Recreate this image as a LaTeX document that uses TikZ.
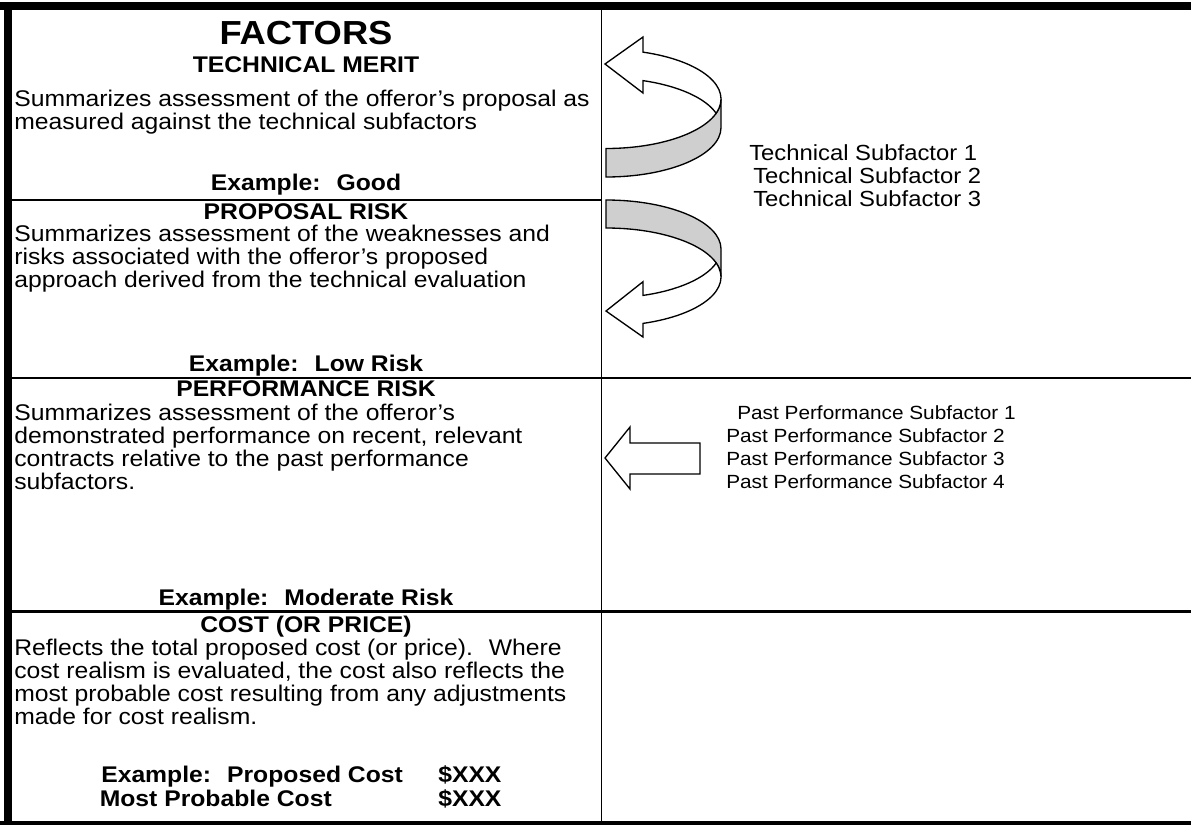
\documentclass[tikz,border=0pt]{standalone}
\usepackage{fontspec}
\setmainfont{Liberation Sans}
\begin{document}
\begin{tikzpicture}[x=0.75pt, y=-0.75pt,
    body/.style={anchor=base west, inner sep=0pt, xscale=1.09, font=\fontsize{17}{18}\selectfont},
    head/.style={anchor=base, inner sep=0pt, xscale=1.09, font=\fontsize{17}{18}\selectfont\bfseries},
    side/.style={anchor=base west, inner sep=0pt, xscale=1.09, font=\fontsize{16.4}{18}\selectfont},
    past/.style={anchor=base west, inner sep=0pt, xscale=1.09, font=\fontsize{14.3}{16}\selectfont},
    arrowbody/.style={draw, line width=1pt, fill=white, line join=miter},
    band/.style={draw, line width=1pt, fill=black!19, line join=miter}]
  \useasboundingbox (0,0) rectangle (1191,825);

  % Draw the heavy frame on the top, left and bottom
  \fill (0,2) rectangle (1191,9.5);
  \fill (3.8,2) rectangle (11.5,825);
  \fill (0,821) rectangle (1191,825);

  % Draw the column divider and the row rules
  \draw[line width=1.2pt] (601.5,9.5) -- (601.5,821);
  \draw[line width=1.9pt] (11.5,200) -- (601.5,200);
  \foreach \y in {378, 611.5} {
      \draw[line width=1.9pt] (11.5,\y) -- (1191,\y);
  }

  % Technical merit
  \node[head, font=\fontsize{25}{27}\selectfont\bfseries] (factors) at (306,44) {FACTORS};
  \node[head] (techmerit) at (306,72) {TECHNICAL MERIT};
  \foreach \t [count=\i] in {{Summarizes assessment of the offeror’s proposal as},
                             {measured against the technical subfactors}} {
      \node[body] (tm\i) at (14,{106+23*(\i-1)}) {\t};
  }
  \node[head] (tmex) at (306,190.5) {Example:~ Good};

  % Proposal risk
  \node[head] (proprisk) at (306,219.5) {PROPOSAL RISK};
  \foreach \t [count=\i] in {{Summarizes assessment of the weaknesses and},
                             {risks associated with the offeror’s proposed},
                             {approach derived from the technical evaluation}} {
      \node[body] (pr\i) at (14,{241.5+23*(\i-1)}) {\t};
  }
  \node[head] (prex) at (306,371) {Example:~ Low Risk};

  % Performance risk
  \node[head] (perfrisk) at (306,396.5) {PERFORMANCE RISK};
  \foreach \t [count=\i] in {{Summarizes assessment of the offeror’s},
                             {demonstrated performance on recent, relevant},
                             {contracts relative to the past performance},
                             {subfactors.}} {
      \node[body] (pf\i) at (14,{420.5+23*(\i-1)}) {\t};
  }
  \node[head] (pfex) at (306,605.5) {Example:~ Moderate Risk};

  % Cost
  \node[head] (cost) at (306,632.5) {COST (OR PRICE)};
  \foreach \t [count=\i] in {{Reflects the total proposed cost (or price).~ Where},
                             {cost realism is evaluated, the cost also reflects the},
                             {most probable cost resulting from any adjustments},
                             {made for cost realism.}} {
      \node[body] (co\i) at (14,{655.5+23*(\i-1)}) {\t};
  }
  \node[head, anchor=base west] (costex) at (101,782) {Example:~ Proposed Cost};
  \node[head, anchor=base west] (costexval) at (438,782) {\$XXX};
  \node[head, anchor=base west] (mpc) at (99.5,806) {Most Probable Cost};
  \node[head, anchor=base west] (mpcval) at (438,806) {\$XXX};

  % Subfactors on the right
  \node[side] (ts1) at (749,160) {Technical Subfactor 1};
  \foreach \i in {2,3} {
      \node[side] (ts\i) at (753,{160+23*(\i-1)}) {Technical Subfactor \i};
  }
  \node[past] (pp1) at (737,419) {Past Performance Subfactor 1};
  \foreach \i in {2,3,4} {
      \node[past] (pp\i) at (726,{419+23*(\i-1)}) {Past Performance Subfactor \i};
  }

  % Curved arrow up to technical merit
  \draw[band] (721,99) arc[start angle=0, end angle=90, x radius=115, y radius=49.5]
      -- (606,177) arc[start angle=90, end angle=0, x radius=115, y radius=49.5] -- cycle;
  \draw[arrowbody] (605,64) -- (643,37) -- (643,52.13)
      arc[start angle=-71.23, end angle=16.73, x radius=115, y radius=49.5]
      arc[start angle=-16.73, end angle=-71.23, x radius=115, y radius=49.5]
      -- (643,93) -- cycle;

  % Curved arrow down to proposal risk
  \draw[band] (606,200) arc[start angle=-90, end angle=0, x radius=115, y radius=49]
      -- (721,277) arc[start angle=0, end angle=-90, x radius=115, y radius=49] -- cycle;
  \draw[arrowbody] (606,311) -- (643,281.7) -- (643,295.4)
      arc[start angle=71.23, end angle=16.6, x radius=115, y radius=49]
      arc[start angle=-16.6, end angle=71.23, x radius=115, y radius=49]
      -- (643,337) -- cycle;

  % Straight arrow to performance risk
  \draw[arrowbody] (605,458) -- (630,427) -- (630,443) -- (700,443)
      -- (700,474) -- (630,474) -- (630,489) -- cycle;
\end{tikzpicture}
\end{document}
